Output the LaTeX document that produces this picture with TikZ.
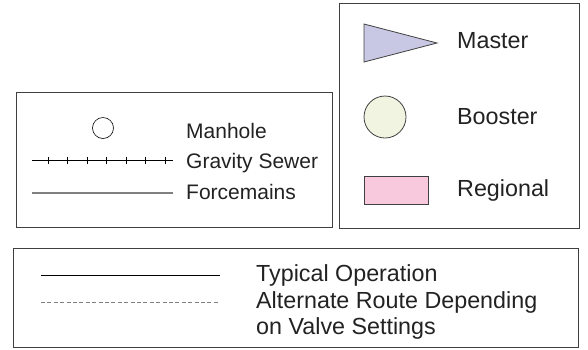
\documentclass[tikz,border=0pt]{standalone}
\usepackage{fontspec}
\setmainfont{Liberation Sans}
\usepackage{tikz}
\usetikzlibrary{positioning}

\definecolor{boxline}{RGB}{64,64,64}
\definecolor{inktext}{RGB}{34,34,34}
\definecolor{masterfill}{RGB}{200,200,228}
\definecolor{boosterfill}{RGB}{240,244,224}
\definecolor{regionalfill}{RGB}{248,200,220}

\tikzset{
  legbox/.style={draw=boxline, line width=1pt},
  legtext/.style={anchor=west, inner sep=0pt, text=inktext, font=\fontsize{23.3}{26}\selectfont},
  smalltext/.style={legtext, font=\fontsize{21}{25}\selectfont},
  symline/.style={draw=boxline, line width=0.8pt}
}

\begin{document}
\begin{tikzpicture}[x=1pt, y=-1pt]
      \useasboundingbox (0,0) rectangle (588,349);
      % left legend
      \draw [legbox] (16,92) rectangle (332,227);
      \node (manholesym) [circle, draw=black, line width=0.6pt, minimum size=21pt, inner sep=0pt] at (103,128) {};
      \node (manhole) [smalltext] at (186,130.5) {Manhole};
      \node (gravity) [smalltext] at (186,163.5) {Gravity Sewer};
      \node (forcemain) [smalltext] at (186,192) {Forcemains};
      \draw [black, line width=0.7pt] (32,160) -- (173,160);
      \foreach \x in {48.3,67.7,87.2,106.6,126,145.5,165}
        \draw [black, line width=0.6pt] (\x,156.5) -- (\x,163.5);
      \draw [gray, line width=1.8pt] (32,193) -- (173,193);
      % right legend
      \draw [legbox] (339,3) rectangle (579,228);
      \draw [symline, fill=masterfill] (364,24) -- (437,43) -- (364,62) -- cycle;
      \node (boostersym) [circle, symline, fill=boosterfill, minimum size=42pt, inner sep=0pt] at (385,117) {};
      \draw [symline, fill=regionalfill] (364,176) rectangle (428,204);
      \node (master) [legtext] at (457,41) {Master};
      \node (booster) [legtext] at (457,117) {Booster};
      \node (regional) [legtext] at (457,190) {Regional};
      % bottom legend
      \draw [legbox] (13,248) rectangle (578,347);
      \draw [black, line width=0.7pt] (41,275) -- (220,275);
      \draw [gray, line width=0.8pt, dash pattern=on 4pt off 2.4pt] (41,302) -- (220,302);
      \node (typical) [legtext] at (256,275.5) {Typical Operation};
      \node (alternate) [legtext, align=left] at (256,315) {Alternate Route Depending\\on Valve Settings};
    \end{tikzpicture}
\end{document}
